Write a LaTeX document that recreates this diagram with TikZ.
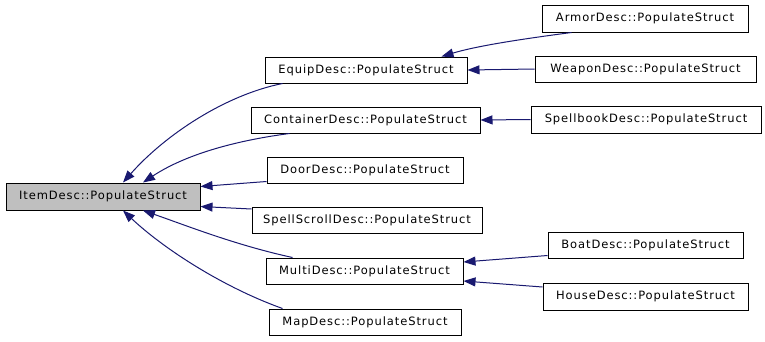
\documentclass[tikz,border=0pt]{standalone}
\usepackage{fontspec}
\newfontfamily\dfont{DejaVu Sans}[LetterSpace=8]
\usetikzlibrary{arrows.meta,calc}
\definecolor{edgeblue}{RGB}{25,25,112}
\definecolor{hilite}{RGB}{191,191,191}
\tikzset{
  box/.style={draw=black,line width=1pt,rectangle,inner sep=0pt,minimum height=26pt,font=\dfont\fontsize{11.5}{13}\selectfont},
  edge/.style={draw=edgeblue,line width=1pt,-{Triangle[length=12pt,width=9pt]}}
}
\begin{document}
\begin{tikzpicture}[x=1pt,y=-1pt]
\useasboundingbox (0,0) rectangle (765,341);
\node[box,fill=hilite,minimum width=194pt,minimum height=27pt] (item) at (103,196.5) {ItemDesc::PopulateStruct};
\node[box,minimum width=202pt] (equip) at (366,70) {EquipDesc::PopulateStruct};
\node[box,minimum width=229pt] (container) at (365.5,120) {ContainerDesc::PopulateStruct};
\node[box,minimum width=196pt] (door) at (365,170) {DoorDesc::PopulateStruct};
\node[box,minimum width=230pt] (scroll) at (367,220.5) {SpellScrollDesc::PopulateStruct};
\node[box,minimum width=197pt] (multi) at (364.5,271) {MultiDesc::PopulateStruct};
\node[box,minimum width=192pt] (map) at (365,322) {MapDesc::PopulateStruct};
\node[box,minimum width=206pt,minimum height=27pt] (armor) at (645,18.5) {ArmorDesc::PopulateStruct};
\node[box,minimum width=221pt] (weapon) at (645.5,69) {WeaponDesc::PopulateStruct};
\node[box,minimum width=230pt,minimum height=27pt] (spellbook) at (646,119.5) {SpellbookDesc::PopulateStruct};
\node[box,minimum width=195pt] (boat) at (645.5,245) {BoatDesc::PopulateStruct};
\node[box,minimum width=205pt,minimum height=27pt] (house) at (645.5,296.5) {HouseDesc::PopulateStruct};

\draw[edge] ($(equip.south west)+(18,0)$) .. controls (225,95) and (165,135) .. ($(item.north)+(20,0)$);
\draw[edge] ($(container.south west)+(39,0)$) .. controls (225,142) and (180,158) .. ($(item.north)+(40,0)$);
\draw[edge] ($(door.south west)+(0,-2)$) -- ($(item.east)+(0,-10)$);
\draw[edge] ($(scroll.north west)+(0,2)$) -- ($(item.east)+(0,10)$);
\draw[edge] ($(multi.north west)+(27,0)$) .. controls (235,245) and (185,225) .. ($(item.south)+(40,0)$);
\draw[edge] ($(map.north west)+(14,0)$) .. controls (225,288) and (165,250) .. ($(item.south)+(20,0)$);
\draw[edge] ($(armor.south west)+(30,0)$) .. controls (530,38) and (480,45) .. ($(equip.north east)+(-26,0)$);
\draw[edge] (weapon.west) -- (equip.east);
\draw[edge] (spellbook.west) -- (container.east);
\draw[edge] ($(boat.south west)+(0,-3)$) -- ($(multi.east)+(0,-9)$);
\draw[edge] ($(house.north west)+(0,4.5)$) -- ($(multi.east)+(0,10)$);
\end{tikzpicture}
\end{document}
